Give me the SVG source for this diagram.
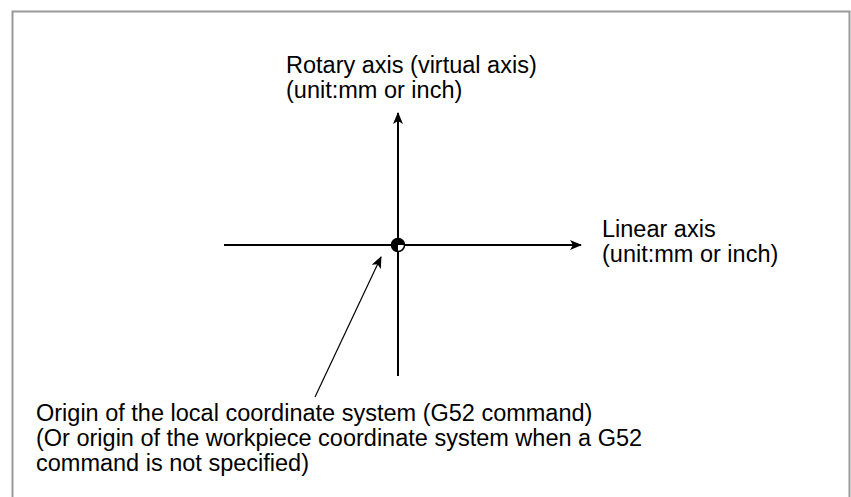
<svg xmlns="http://www.w3.org/2000/svg" width="851" height="497" viewBox="0 0 851 497">
<style>
text{font-family:"Liberation Sans",Arial,sans-serif;font-size:23.5px;fill:#000}
.axis{stroke:#000;stroke-width:2;fill:none}
.lead{stroke:#000;stroke-width:1.2;fill:none}
</style>
<defs>
<marker id="ah" markerWidth="12" markerHeight="10" refX="11" refY="5" orient="auto" markerUnits="userSpaceOnUse">
<path d="M0,0 L12,5 L0,10 L3,5 Z" fill="#000"/>
</marker>
</defs>
<rect width="851" height="497" fill="#fff"/>
<path d="M12.5,500 V11.5 H849.5 V500" fill="none" stroke="#999" stroke-width="2"/>
<g id="connectors">
<line class="axis" x1="224" y1="245" x2="581" y2="245" marker-end="url(#ah)"/>
<line class="axis" x1="398" y1="376" x2="398" y2="113" marker-end="url(#ah)"/>
<line class="lead" x1="315" y1="397" x2="381" y2="257" marker-end="url(#ah)"/>
</g>
<g id="origin">
<circle cx="398" cy="245" r="6.5" fill="#fff" stroke="#000" stroke-width="1.5"/>
<path d="M398,245 L391.5,245 A6.5,6.5 0 0 1 404.5,245 Z" fill="#000"/>
<path d="M398,245 L391.5,245 A6.5,6.5 0 0 0 398,251.5 Z" fill="#000"/>
</g>
<g id="rotary-label">
<text x="286" y="73">Rotary axis (virtual axis)</text>
<text x="286" y="98">(unit:mm or inch)</text>
</g>
<g id="linear-label">
<text x="602" y="237">Linear axis</text>
<text x="602" y="262">(unit:mm or inch)</text>
</g>
<g id="origin-label">
<text x="36" y="421">Origin of the local coordinate system (G52 command)</text>
<text x="36" y="446">(Or origin of the workpiece coordinate system when a G52</text>
<text x="36" y="471">command is not specified)</text>
</g>
</svg>
